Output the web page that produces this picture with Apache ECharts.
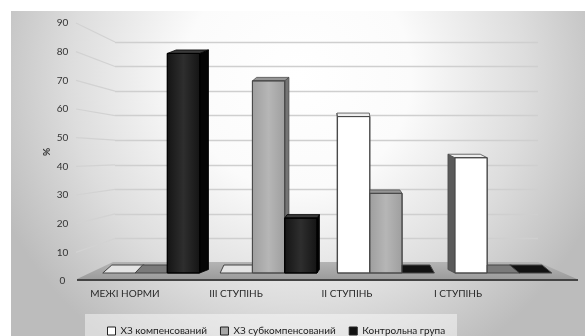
<!DOCTYPE html>
<html><head><meta charset="utf-8">
<script src="https://cdn.jsdelivr.net/npm/echarts@6/dist/echarts.min.js"></script>
<style>html,body{margin:0;padding:0;background:#fff}#c{width:585px;height:336px}</style>
</head><body><div id="c"></div>
<script>
const categories = ['МЕЖІ НОРМИ', 'ІІІ СТУПІНЬ', 'ІІ СТУПІНЬ', 'І СТУПІНЬ'];
const seriesNames = ['ХЗ компенсований', 'ХЗ субкомпенсований', 'Контрольна група'];
const compensated = [0, 0, 57, 42];
const subcompensated = [0, 70, 29, 0];
const control = [80, 20, 0, 0];
const yMin = 0, yMax = 90, yStep = 10;
const yTickValues = [0, 10, 20, 30, 40, 50, 60, 70, 80, 90];

const values = [compensated, subcompensated, control];
const palette = [
  {front:'#ffffff', mid:'#ffffff', side:'#5a5a5a', top:'#eeeeee', stroke:'#4a4a4a', flat:'#e4e4e4', legend:'#ffffff'},
  {front:'#9e9e9e', mid:'#b6b6b6', side:'#747474', top:'#959595', stroke:'#4a4a4a', flat:'#7a7a7a', legend:'#a6a6a6'},
  {front:'#141414', mid:'#2e2e2e', side:'#050505', top:'#3a3a3a', stroke:'#000000', flat:'#121212', legend:'#111111'}
];
const FONT = 'Lato, "Open Sans", sans-serif';

const chart = echarts.init(document.getElementById('c'), null, {renderer:'canvas'});

function makeRender(si) {
  return function (params, api) {
    const cat = api.value(0);
    const val = api.value(1);
    const catW = api.size([1, 0])[0];
    const bw = catW * 0.275;
    const c = api.coord([cat, 0]);
    const t = api.coord([cat, val]);
    const cx = c[0] + (si - 1) * bw;
    const x0 = cx - bw / 2, x1 = cx + bw / 2;
    const yb = c[1], yt = t[1];
    const pal = palette[si];
    const flat = val <= 0;
    const dx = (flat ? 0.045 : 0.055) * ((flat ? 320 : 345) - cx);
    const dy = flat ? -8 : -3.5;
    const nb = dx > 0 ? si + 1 : si - 1;
    const nbVal = (nb >= 0 && nb < 3) ? values[nb][cat] : 0;
    const clip = nbVal > val;
    const children = [];
    let pts;
    if (dx > 0 && clip) pts = [[x0, yt], [x1, yt], [x1, yt + dy], [x0 + dx, yt + dy]];
    else if (dx <= 0 && clip) pts = [[x0, yt], [x1, yt], [x1 + dx, yt + dy], [x0, yt + dy]];
    else pts = [[x0, yt], [x1, yt], [x1 + dx, yt + dy], [x0 + dx, yt + dy]];
    if (flat) {
      children.push({type:'polygon', shape:{points:pts},
        style:{fill:pal.flat, stroke:'#444', lineWidth:1}});
      return {type:'group', children};
    }
    if (!clip) {
      const sideX = dx > 0 ? x1 : x0;
      const ys = api.coord([cat, nbVal])[1];
      children.push({type:'polygon', shape:{points:[[sideX, ys], [sideX, yt], [sideX + dx, yt + dy], [sideX + dx, ys + dy]]},
        style:{fill:pal.side, stroke:pal.stroke, lineWidth:0.8}});
    }
    children.push({type:'polygon', shape:{points:pts}, style:{fill:pal.top, stroke:pal.stroke, lineWidth:0.8}});
    children.push({type:'rect', shape:{x:x0, y:yt, width:bw, height:yb - yt},
      style:{fill:new echarts.graphic.LinearGradient(0, 0, 1, 0, [
        {offset:0, color:pal.front}, {offset:0.5, color:pal.mid}, {offset:1, color:pal.front}]),
        stroke:pal.stroke, lineWidth:1}});
    return {type:'group', children};
  };
}

const option = {
  backgroundColor: '#ffffff',
  animation: false,
  textStyle: {fontFamily: FONT},
  grid: [
    {left: 92.5, right: 23, top: 26, bottom: 63},     // bars
    {left: 69.5, right: 71.5, top: 23, bottom: 55},   // front labels
    {left: 115, right: 47, top: 42, bottom: 73}       // back wall
  ],
  xAxis: [
    {type:'category', gridIndex:0, data:categories, show:false},
    {type:'category', gridIndex:1, data:categories,
      axisLine:{show:false}, axisTick:{show:false},
      axisLabel:{fontSize:10, color:'#2a2a2a', margin:8, fontFamily:FONT}},
    {type:'category', gridIndex:2, data:categories, show:false}
  ],
  yAxis: [
    {type:'value', gridIndex:0, min:yMin, max:yMax, interval:yStep, show:false},
    {type:'value', gridIndex:1, min:yMin, max:yMax, interval:yStep,
      axisLine:{show:false}, axisTick:{show:false}, splitLine:{show:false},
      axisLabel:{fontSize:10, color:'#333', align:'center', margin:7, fontFamily:FONT},
      name:'%', nameLocation:'middle', nameGap:18, nameRotate:90, nameMoveOverlap:false,
      nameTextStyle:{fontSize:10, fontWeight:'bold', color:'#333', fontFamily:FONT}},
    {type:'value', gridIndex:2, min:yMin, max:yMax, interval:yStep,
      axisLine:{show:false}, axisTick:{show:false}, axisLabel:{show:false},
      splitLine:{show:true, lineStyle:{color:'#cfcfcf', width:1.3}}}
  ],
  legend: {
    left: 102, top: 321, itemWidth: 8, itemHeight: 8, itemGap: 13,
    textStyle: {fontSize: 10, color: '#1a1a1a', fontFamily: FONT},
    data: seriesNames.map((n, i) => ({name: n, icon: 'rect',
      itemStyle: {color: palette[i].legend, borderColor: '#222', borderWidth: 1}}))
  },
  series: values.map((arr, si) => ({
    type: 'custom', name: seriesNames[si], xAxisIndex: 0, yAxisIndex: 0,
    renderItem: makeRender(si),
    itemStyle: {color: palette[si].legend},
    encode: {x: 0, y: 1},
    data: arr.map((v, i) => [i, v]),
    z: 5
  }))
};
chart.setOption(option);

// decorative background, floor and perspective guide lines
const graphics = [
  {type:'rect', id:'bg', z:-100, silent:true, shape:{x:11, y:11, width:574, height:325},
    style:{fill:new echarts.graphic.RadialGradient(0.5, 0.2, 1.0, [
      {offset:0, color:'#ffffff'}, {offset:0.35, color:'#fbfbfb'},
      {offset:0.7, color:'#dddddd'}, {offset:1, color:'#bcbcbc'}])}},
  {type:'rect', id:'legbox', z:-90, silent:true, shape:{x:85, y:314, width:372, height:22},
    style:{fill:'rgba(255,255,255,0.45)'}},
  {type:'polygon', id:'floor', z:1, silent:true,
    shape:{points:[[113, 262], [538, 262], [577, 279], [77, 279]]},
    style:{fill:new echarts.graphic.LinearGradient(0, 0, 0, 1, [
      {offset:0, color:'#b4b4b4'}, {offset:1, color:'#9c9c9c'}])}},
  {type:'line', id:'edge', z:1, silent:true, shape:{x1:77, y1:280, x2:578, y2:280},
    style:{stroke:'#444', lineWidth:2}}
];
yTickValues.forEach((v, i) => {
  const yF = chart.convertToPixel({yAxisIndex: 1}, v);
  const yB = chart.convertToPixel({yAxisIndex: 2}, v);
  if (v === 0) return;
  graphics.push({type:'line', id:'pl' + i, z:0, silent:true,
    shape:{x1:76, y1:yF, x2:115, y2:yB}, style:{stroke:'#d2d2d2', lineWidth:1.2}});
});
chart.setOption({graphic: graphics});
</script>
</body></html>
